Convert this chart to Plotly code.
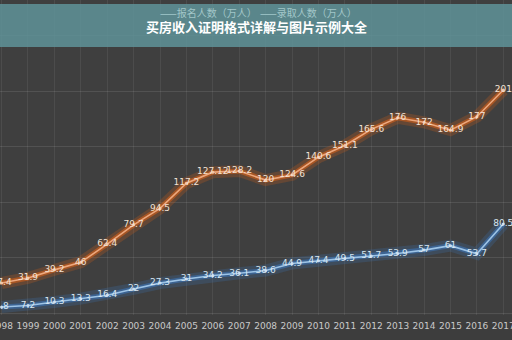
import plotly.graph_objects as go

years = list(range(1998, 2018))
applicants = [27.4, 31.9, 39.2, 46, 62.4, 79.7, 94.5, 117.2, 127.12, 128.2,
              120, 124.6, 140.6, 151.1, 165.6, 176, 172, 164.9, 177, 201]
admitted = [5.8, 7.2, 10.3, 13.3, 16.4, 22, 27.3, 31, 34.2, 36.1,
            38.6, 44.9, 47.4, 49.5, 51.7, 53.9, 57, 61, 53.7, 80.5]
series_names = ["报名人数（万人）", "录取人数（万人）"]
title_text = "买房收入证明格式详解与图片示例大全"

def fmt(v):
    return ("%g" % v)

fig = go.Figure()

# glow layers
for vals, glow in [(applicants, "210,95,25"), (admitted, "60,115,180")]:
    fig.add_trace(go.Scatter(x=years, y=vals, mode="lines",
                             line=dict(color=f"rgba({glow},0.25)", width=12),
                             hoverinfo="skip", showlegend=False))
    fig.add_trace(go.Scatter(x=years, y=vals, mode="lines",
                             line=dict(color=f"rgba({glow},0.6)", width=5),
                             hoverinfo="skip", showlegend=False))

fig.add_trace(go.Scatter(x=years, y=applicants, mode="lines+markers+text",
                         name=series_names[0],
                         line=dict(color="#eda77c", width=1.6),
                         marker=dict(size=3, color="#f3c6a8"),
                         text=[fmt(v) for v in applicants],
                         textposition="middle center",
                         textfont=dict(size=9, color="#f1e2d6",
                                       family="DejaVu Sans"),
                         showlegend=False))
fig.add_trace(go.Scatter(x=years, y=admitted, mode="lines+markers+text",
                         name=series_names[1],
                         line=dict(color="#9cc3e6", width=1.6),
                         marker=dict(size=3, color="#c8def0"),
                         text=[fmt(v) for v in admitted],
                         textposition="middle center",
                         textfont=dict(size=9, color="#d9e6f0",
                                       family="DejaVu Sans"),
                         showlegend=False))

fig.update_layout(
    width=512, height=340,
    margin=dict(l=0, r=0, t=0, b=25),
    paper_bgcolor="#3d3d3d", plot_bgcolor="#3f3f3f",
    xaxis=dict(range=[1997.94, 2017.33], tickmode="array", tickvals=years,
               ticktext=[str(y) for y in years], showgrid=True,
               gridcolor="rgba(255,255,255,0.07)", gridwidth=1,
               zeroline=False, showline=False, ticklabeloverflow="allow",
               automargin=False, tickangle=0, ticklabelstandoff=4,
               tickfont=dict(size=9, color="#c9c9c9", family="DejaVu Sans"),
               ticklen=0),
    yaxis=dict(range=[-1.4, 282], dtick=50, showgrid=True,
               gridcolor="rgba(255,255,255,0.10)", zeroline=False,
               showticklabels=False, showline=False, automargin=False),
    shapes=[dict(type="rect", xref="paper", yref="paper",
                 x0=0, x1=1, y0=1 - 47 / 315, y1=1 - 4 / 315,
                 fillcolor="rgba(95,145,150,0.88)", line=dict(width=0),
                 layer="above")],
    annotations=[
        dict(xref="paper", yref="paper", x=158 / 512, y=1 - 13 / 315,
             xanchor="left", yanchor="middle", showarrow=False,
             text="——" + series_names[0],
             font=dict(size=10, color="#a2c6c9", family="Noto Sans CJK SC")),
        dict(xref="paper", yref="paper", x=258 / 512, y=1 - 13 / 315,
             xanchor="left", yanchor="middle", showarrow=False,
             text="——" + series_names[1],
             font=dict(size=10, color="#a2c6c9", family="Noto Sans CJK SC")),
        dict(xref="paper", yref="paper", x=256 / 512, y=1 - 26 / 315,
             xanchor="center", yanchor="middle", showarrow=False,
             text="<b>" + title_text + "</b>",
             font=dict(size=13, color="#ffffff", family="Noto Sans CJK SC")),
    ],
)

fig.write_html("out.html")
